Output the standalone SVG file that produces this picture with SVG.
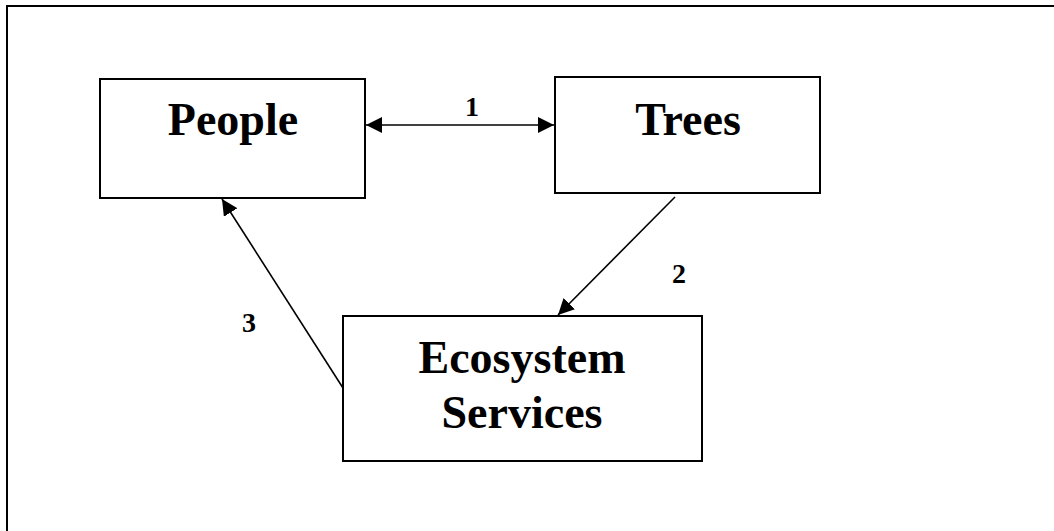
<svg xmlns="http://www.w3.org/2000/svg" width="1054" height="531" viewBox="0 0 1054 531">
<style>
.box{fill:#fff;stroke:#000;stroke-width:2}
.lbl{font-family:"Liberation Serif",serif;font-weight:bold;font-size:46px;text-anchor:middle;fill:#000}
.num{font-family:"Liberation Serif",serif;font-weight:bold;font-size:28px;text-anchor:middle;fill:#000}
.con{stroke:#000;stroke-width:1.6;fill:none}
</style>
<defs>
<marker id="ah" viewBox="0 0 10 10" refX="10" refY="5" markerWidth="16" markerHeight="16" markerUnits="userSpaceOnUse" orient="auto-start-reverse">
<path d="M0,0 L10,5 L0,10 z" fill="#000"/>
</marker>
</defs>
<rect width="1054" height="531" fill="#fff"/>
<path d="M7,531 L7,6 L1054,6" stroke="#000" stroke-width="2" fill="none"/>
<g id="people"><rect class="box" x="100" y="79" width="265" height="119"/><text class="lbl" x="233" y="135">People</text></g>
<g id="trees"><rect class="box" x="555" y="77" width="265" height="116"/><text class="lbl" x="688" y="135">Trees</text></g>
<g id="ecosystem"><rect class="box" x="343" y="316" width="359" height="145"/><text class="lbl" x="522" y="373">Ecosystem</text><text class="lbl" x="522" y="428">Services</text></g>
<g id="connectors">
<line class="con" x1="366" y1="125" x2="554" y2="125" marker-start="url(#ah)" marker-end="url(#ah)"/>
<line class="con" x1="675" y1="197" x2="558" y2="315" marker-end="url(#ah)"/>
<line class="con" x1="343" y1="388" x2="222" y2="199" marker-end="url(#ah)"/>
<text class="num" x="472" y="116">1</text>
<text class="num" x="679" y="283">2</text>
<text class="num" x="249" y="332">3</text>
</g>
</svg>
